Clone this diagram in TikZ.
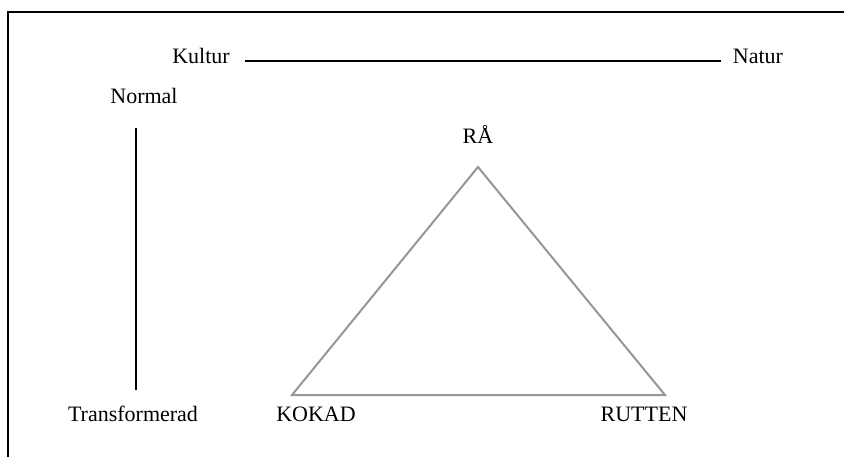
\documentclass[tikz,border=0pt]{standalone}
\usepackage{fontspec}
\setmainfont{Liberation Serif}
\usetikzlibrary{positioning}
\definecolor{trigray}{RGB}{150,150,150}

\begin{document}
\begin{tikzpicture}[x=0.75pt, y=-0.75pt,
    every node/.style={inner sep=0pt, anchor=base},
    axis/.style={line width=1.6pt, black},
    tri/.style={line width=1.5pt, trigray}]
  \fontsize{16.5}{20}\selectfont
  \useasboundingbox (0,0) rectangle (844,457);
  \draw[line width=0.9pt] (8,457) -- (8,12) -- (844,12);

  % the two axes
  \node (kultur) at (201,63) {Kultur};
  \node (natur) at (758,63) {Natur};
  \node (normal) at (144,103) {Normal};
  \node (transf) at (133,421) {Transformerad};

  \coordinate (ntop) at (136,128);
  \coordinate (tbot) at (136,390);

  \draw[axis] ([shift={(15,-2)}]kultur.base east) -- ([shift={(-12,-2)}]natur.base west);
  \draw[axis] (ntop) -- (tbot);

  % the triangle
  \coordinate (apex) at (478,167);
  \coordinate (lcorner) at (292,395);
  \coordinate (rcorner) at (665,395);

  \node (ra) at (478,143) {RÅ};
  \node (kokad) at (316,421) {KOKAD};
  \node (rutten) at (644,421) {RUTTEN};

  \draw[tri] (apex) -- (rcorner) -- (lcorner) -- cycle;
\end{tikzpicture}
\end{document}
